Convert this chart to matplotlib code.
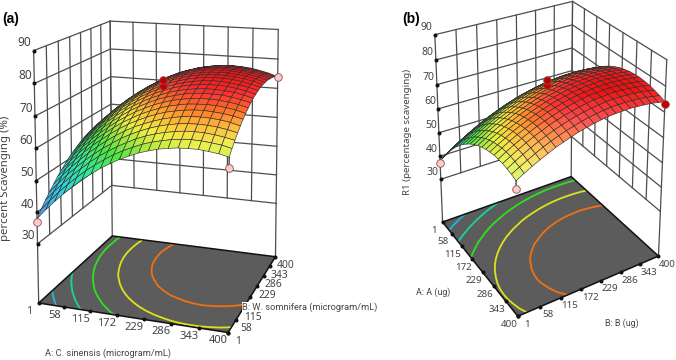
import numpy as np
import matplotlib
matplotlib.use('Agg')
import matplotlib.pyplot as plt
from matplotlib.colors import LinearSegmentedColormap, Normalize
from mpl_toolkits.mplot3d import proj3d

plt.rcParams['font.family'] = ['Noto Sans', 'DejaVu Sans']

TICKS = [1, 58, 115, 172, 229, 286, 343, 400]
Z_TICKS = [30, 40, 50, 60, 70, 80, 90]
FLOOR = 11
LEVELS = [44, 51, 58, 65, 72]
LEVEL_COLORS = ['#25b4e0', '#12d6a0', '#2fe01e', '#dde21c', '#f2700f']

# mesh positions on both factors
GRID = [1, 20.95, 40.9, 60.85, 80.8, 100.75, 120.7, 140.65, 160.6, 180.55, 200.5,
        220.45, 240.4, 260.35, 280.3, 300.25, 320.2, 340.15, 360.1, 380.05, 400]

RESPONSE = np.array([
    [38.0, 41.2, 44.1, 46.9, 49.4, 51.8, 53.9, 55.9, 57.6, 59.2, 60.5, 61.7, 62.6, 63.4, 63.9, 64.3, 64.4, 64.4, 64.1, 63.7, 63.0],
    [40.0, 43.1, 46.1, 48.8, 51.3, 53.7, 55.8, 57.7, 59.5, 61.0, 62.3, 63.5, 64.4, 65.1, 65.7, 66.0, 66.2, 66.1, 65.8, 65.4, 64.7],
    [41.9, 45.0, 47.9, 50.6, 53.1, 55.5, 57.6, 59.5, 61.2, 62.7, 64.1, 65.2, 66.1, 66.8, 67.3, 67.7, 67.8, 67.7, 67.4, 66.9, 66.3],
    [43.6, 46.7, 49.6, 52.3, 54.8, 57.1, 59.2, 61.1, 62.9, 64.4, 65.7, 66.8, 67.7, 68.4, 68.9, 69.2, 69.3, 69.2, 68.9, 68.4, 67.7],
    [45.2, 48.3, 51.2, 53.9, 56.4, 58.7, 60.8, 62.7, 64.4, 65.9, 67.1, 68.2, 69.1, 69.8, 70.3, 70.6, 70.7, 70.6, 70.3, 69.8, 69.0],
    [46.8, 49.8, 52.7, 55.4, 57.9, 60.1, 62.2, 64.1, 65.8, 67.2, 68.5, 69.6, 70.5, 71.1, 71.6, 71.9, 72.0, 71.8, 71.5, 71.0, 70.3],
    [48.1, 51.2, 54.1, 56.7, 59.2, 61.4, 63.5, 65.4, 67.0, 68.5, 69.7, 70.8, 71.7, 72.3, 72.8, 73.0, 73.1, 73.0, 72.6, 72.1, 71.3],
    [49.4, 52.5, 55.3, 57.9, 60.4, 62.6, 64.7, 66.5, 68.2, 69.6, 70.9, 71.9, 72.8, 73.4, 73.8, 74.1, 74.1, 74.0, 73.6, 73.1, 72.3],
    [50.6, 53.6, 56.4, 59.1, 61.5, 63.7, 65.7, 67.6, 69.2, 70.6, 71.9, 72.9, 73.7, 74.4, 74.8, 75.0, 75.0, 74.9, 74.5, 73.9, 73.2],
    [51.6, 54.6, 57.4, 60.0, 62.5, 64.7, 66.7, 68.5, 70.1, 71.5, 72.7, 73.8, 74.6, 75.2, 75.6, 75.8, 75.8, 75.6, 75.3, 74.7, 73.9],
    [52.5, 55.5, 58.3, 60.9, 63.3, 65.5, 67.5, 69.3, 70.9, 72.3, 73.5, 74.5, 75.3, 75.9, 76.3, 76.5, 76.5, 76.3, 75.9, 75.3, 74.5],
    [53.3, 56.3, 59.1, 61.6, 64.0, 66.2, 68.2, 70.0, 71.6, 73.0, 74.1, 75.1, 75.9, 76.5, 76.9, 77.1, 77.1, 76.8, 76.4, 75.8, 75.0],
    [54.0, 56.9, 59.7, 62.3, 64.6, 66.8, 68.8, 70.6, 72.1, 73.5, 74.7, 75.6, 76.4, 77.0, 77.3, 77.5, 77.5, 77.3, 76.8, 76.2, 75.4],
    [54.5, 57.5, 60.2, 62.8, 65.1, 67.3, 69.2, 71.0, 72.6, 73.9, 75.1, 76.0, 76.8, 77.3, 77.7, 77.8, 77.8, 77.5, 77.1, 76.5, 75.6],
    [54.9, 57.9, 60.6, 63.2, 65.5, 67.6, 69.6, 71.3, 72.9, 74.2, 75.3, 76.3, 77.0, 77.6, 77.9, 78.0, 78.0, 77.7, 77.3, 76.6, 75.7],
    [55.3, 58.2, 60.9, 63.4, 65.8, 67.9, 69.8, 71.5, 73.1, 74.4, 75.5, 76.4, 77.2, 77.7, 78.0, 78.1, 78.1, 77.8, 77.3, 76.6, 75.8],
    [55.4, 58.4, 61.1, 63.6, 65.9, 68.0, 69.9, 71.6, 73.1, 74.4, 75.5, 76.5, 77.2, 77.7, 78.0, 78.1, 78.0, 77.7, 77.2, 76.5, 75.6],
    [55.5, 58.4, 61.1, 63.6, 65.9, 68.0, 69.9, 71.6, 73.1, 74.4, 75.5, 76.4, 77.1, 77.5, 77.8, 77.9, 77.8, 77.5, 77.0, 76.3, 75.4],
    [55.5, 58.3, 61.0, 63.5, 65.8, 67.9, 69.7, 71.4, 72.9, 74.2, 75.3, 76.1, 76.8, 77.3, 77.6, 77.7, 77.5, 77.2, 76.7, 76.0, 75.1],
    [55.3, 58.2, 60.8, 63.3, 65.6, 67.6, 69.5, 71.1, 72.6, 73.9, 74.9, 75.8, 76.5, 76.9, 77.2, 77.3, 77.1, 76.8, 76.3, 75.5, 74.6],
    [55.0, 57.9, 60.5, 63.0, 65.2, 67.3, 69.1, 70.8, 72.2, 73.5, 74.5, 75.4, 76.0, 76.5, 76.7, 76.8, 76.6, 76.3, 75.7, 75.0, 74.0],
])

POINTS_A = [(1, 1, 37, '#ffc9c9'), (400, 1, 60, '#ffc9c9'), (400, 400, 74, '#ffc9c9'),
            (200.5, 200.5, 75, '#c40000'), (200.5, 200.5, 77, '#c40000')]
POINTS_B = [(1, 1, 37, '#ffc9c9'), (400, 1, 60, '#ffc9c9'), (400, 400, 73, '#c40000'),
            (200.5, 200.5, 75, '#c40000'), (200.5, 200.5, 77, '#c40000')]

surface_cmap = LinearSegmentedColormap.from_list('response', [
    (0.0, '#4aa0f0'), (0.15, '#30d0e0'), (0.32, '#30e8a0'), (0.5, '#50e840'), (0.6, '#b0e840'),
    (0.67, '#f0f040'), (0.77, '#ffb030'), (0.85, '#ff6a28'), (0.92, '#ff3030'), (1.0, '#f01010')])
surface_norm = Normalize(38, 78.1)


def make_axes(cx, cy, w, h, elev, azim, roll, focal, bx, by):
    ax = plt.gcf().add_axes([(cx - w/2)/676, 1 - (cy + h/2)/360, w/676, h/360],
                            projection='3d', computed_zorder=False)
    # the picture is stretched, so the 3d axes must not be forced square
    ax.apply_aspect = lambda position=None: None
    ax.set_xlim(1, 400)
    ax.set_ylim(1, 400)
    ax.set_zlim(FLOOR, 90)
    ax.view_init(elev, azim, roll)
    ax.set_proj_type('persp', focal_length=focal)
    ax.set_box_aspect((bx, by, 4.0))
    ax.set_axis_off()
    return ax


def label(ax, x, y, z, text, dx, dy, size):
    px, py, _ = proj3d.proj_transform(x, y, z, ax.get_proj())
    ax.annotate(text, (px, py), xytext=(dx, -dy), textcoords='offset pixels', ha='center',
                va='center', fontsize=size, color='#444444', annotation_clip=False)


def lit_colors(ax, bx, by):
    # faces turned away from the camera go dark, faces turned to it go pale
    d_b, d_a = np.gradient(RESPONSE, GRID, GRID)
    scale = 4.0 / 79
    nx, ny = -d_a * scale / (bx / 399), -d_b * scale / (by / 399)
    e, a = np.radians(ax.elev), np.radians(ax.azim)
    lum = (nx*np.cos(e)*np.cos(a) + ny*np.cos(e)*np.sin(a) + np.sin(e)) / np.sqrt(nx**2 + ny**2 + 1)
    colors = surface_cmap(surface_norm(RESPONSE))
    dark = np.clip(0.55 + 5*lum, 0.55, 1)[..., None]
    pale = np.clip((lum - 0.45)*1.2, 0, 0.25)[..., None]
    colors[..., :3] = colors[..., :3]*dark*(1 - pale) + pale
    return colors


def draw_panel(ax, points, bx, by):
    wall = dict(color='#4d4d4d', lw=0.9, zorder=1)
    # walls: A=1 plane and B=400 plane, gridded from 30 up
    for t in TICKS:
        ax.plot([1, 1], [t, t], [30, 90], **wall)
        ax.plot([t, t], [400, 400], [30, 90], **wall)
    for z in Z_TICKS:
        ax.plot([1, 1, 400], [1, 400, 400], [z, z, z], **wall)
    for a, b in [(1, 1), (1, 400), (400, 400)]:
        ax.plot([a, a], [b, b], [FLOOR, 30], **wall)

    # floor with the contour lines of the response
    fa, fb = np.meshgrid([1, 400], [1, 400])
    ax.plot_surface(fa, fb, np.full((2, 2), FLOOR), color='#5c5c5c', shade=False, zorder=2)
    ax.contour(GRID, GRID, RESPONSE, levels=LEVELS, colors=LEVEL_COLORS, linewidths=1.3,
               zdir='z', offset=FLOOR, zorder=3)
    ax.plot([1, 400, 400, 1, 1], [1, 1, 400, 400, 1], [FLOOR]*5, color='#111111', lw=1.1, zorder=4)

    # tick dots
    dots = dict(ls='', marker='o', ms=1.9, color='#111111', zorder=4)
    ax.plot(TICKS, [1]*8, [FLOOR]*8, **dots)
    ax.plot([400]*8, TICKS, [FLOOR]*8, **dots)
    ax.plot([1]*7, [1]*7, Z_TICKS, **dots)

    ax.plot_surface(*np.meshgrid(GRID, GRID), RESPONSE, facecolors=lit_colors(ax, bx, by),
                    rstride=1, cstride=1, edgecolor='#2c2c2c', linewidth=0.42, shade=False, zorder=5)

    for a, b, z, color in points:
        on_surface = RESPONSE[GRID.index(b), GRID.index(a)]
        ax.plot([a, a], [b, b], [z, on_surface], color='#333333', lw=0.9, zorder=6)
        ax.plot([a], [b], [z], ls='', marker='o', ms=5.5, mfc=color, mec='#8a5050', mew=0.6, zorder=7)


fig = plt.figure(figsize=(6.76, 3.6), dpi=100)
ax_a = make_axes(159.058, 167.08, 300.819, 452.681, 11.277, -70.347, 0.248, 0.607, 4.664, 4.556)
draw_panel(ax_a, POINTS_A, 4.664, 4.556)
for t in TICKS:
    label(ax_a, t, 1, FLOOR, str(t), -10, 8, 8)
    # 172 sits under the B axis title in the reference
    if t != 172:
        label(ax_a, 400, t, FLOOR, str(t), 10, 9, 7.4)
for z in Z_TICKS:
    label(ax_a, 1, 1, z, str(z), -9, -8, 8.5)

ax_b = make_axes(543.747, 151.006, 269.822, 362.827, 23.752, -31.097, 0.085, 0.602, 4.197, 4.175)
draw_panel(ax_b, POINTS_B, 4.197, 4.175)
for t in TICKS:
    label(ax_b, t, 1, FLOOR, str(t), -9, 8, 7)
    label(ax_b, 400, t, FLOOR, str(t), 9, 8, 7)
for z in Z_TICKS:
    label(ax_b, 1, 1, z, str(z), -8, -7, 7.5)


def fig_text(x, y, text, **kw):
    kw.setdefault('fontsize', 6.7)
    kw.setdefault('color', '#444444')
    kw.setdefault('family', 'Roboto')
    fig.text(x/676, 1 - y/360, text, ha='center', va='center', **kw)


fig_text(11, 19, '(a)', fontsize=10, color='black', fontweight='bold', family='Liberation Sans')
fig_text(411, 19, '(b)', fontsize=10, color='black', fontweight='bold', family='Liberation Sans')
fig_text(6, 178, 'percent Scavenging (%)', rotation=90, fontsize=8.2, family='Noto Sans')
fig_text(108, 353, 'A: C. sinensis (microgram/mL)')
fig_text(310, 307, 'B: W. somnifera (microgram/mL)', bbox=dict(fc='white', ec='none', pad=0.5), zorder=10)
fig_text(408, 132, 'R1 (percentage scavenging)', rotation=90, fontsize=7, family='Noto Sans')
fig_text(433, 292, 'A: A (ug)', fontsize=6.4)
fig_text(622, 323, 'B: B (ug)', fontsize=6.4)

fig.savefig('out.png', dpi=100)
